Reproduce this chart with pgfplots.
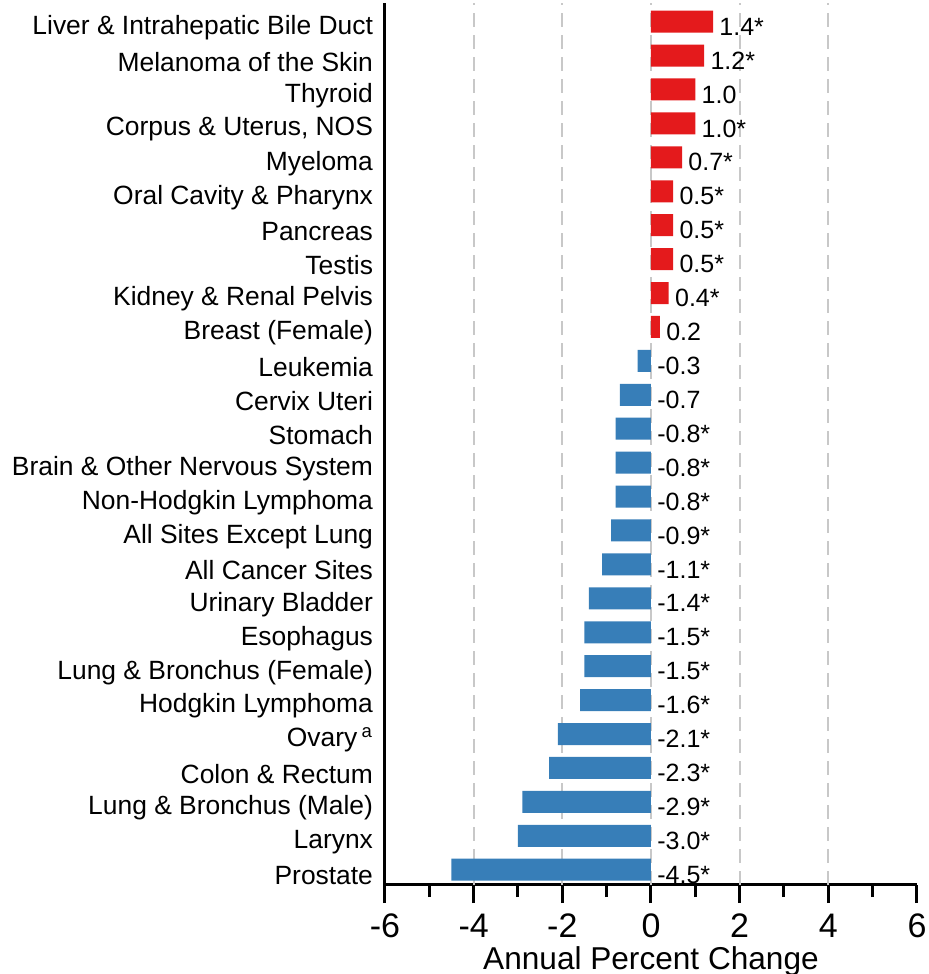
\documentclass[border=0pt]{standalone}
\usepackage{pgfplots}
\pgfplotsset{compat=1.18}
\usepackage{pgfplotstable}
\usepackage{fontspec}
\setmainfont{Liberation Sans}
\definecolor{barred}{HTML}{E41A1C}
\definecolor{barblue}{HTML}{377EB8}
\definecolor{gridgray}{HTML}{C8C8C8}

\pgfplotstableread[col sep=comma]{
pos,val,lab
25,1.4,1.4*
24,1.2,1.2*
23,1.0,1.0
22,1.0,1.0*
21,0.7,0.7*
20,0.5,0.5*
19,0.5,0.5*
18,0.5,0.5*
17,0.4,0.4*
16,0.2,0.2
}\postable

\pgfplotstableread[col sep=comma]{
pos,val,lab
15,-0.3,-0.3
14,-0.7,-0.7
13,-0.8,-0.8*
12,-0.8,-0.8*
11,-0.8,-0.8*
10,-0.9,-0.9*
9,-1.1,-1.1*
8,-1.4,-1.4*
7,-1.5,-1.5*
6,-1.5,-1.5*
5,-1.6,-1.6*
4,-2.1,-2.1*
3,-2.3,-2.3*
2,-2.9,-2.9*
1,-3.0,-3.0*
0,-4.5,-4.5*
}\negtable

\begin{document}
\begin{tikzpicture}
\begin{axis}[
  scale only axis,
  width=266pt, height=441pt,
  xmin=-6, xmax=6, ymin=-0.45, ymax=25.55,
  axis x line*=bottom, axis y line*=left,
  axis line style={line width=1.5pt, black},
  xtick={-6,-4,...,6},
  minor xtick={-5,-3,...,5},
  tick align=outside,
  major tick length=9pt, minor tick length=6pt,
  every tick/.style={black, line width=1.5pt},
  extra x ticks={-4,-2,0,2,4},
  extra x tick labels={},
  extra x tick style={grid=major, major tick length=0pt, every tick/.style={draw=none}},
  grid style={gridgray, line width=1pt, dash pattern=on 7pt off 4pt},
  ytick={0,...,25},
  yticklabels={Prostate, Larynx, Lung \& Bronchus (Male), Colon \& Rectum, Ovary\,\textsuperscript{a}, Hodgkin Lymphoma, Lung \& Bronchus (Female), Esophagus, Urinary Bladder, All Cancer Sites, All Sites Except Lung, Non-Hodgkin Lymphoma, Brain \& Other Nervous System, Stomach, Cervix Uteri, Leukemia, Breast (Female), Kidney \& Renal Pelvis, Testis, Pancreas, Oral Cavity \& Pharynx, Myeloma, {Corpus \& Uterus, NOS}, Thyroid, Melanoma of the Skin, Liver \& Intrahepatic Bile Duct},
  ytick style={draw=none},
  yticklabel style={font=\fontsize{13.2}{15}\selectfont, anchor=east, xshift=6.5pt, yshift=-3pt},
  xticklabel style={font=\fontsize{17}{20}\selectfont, yshift=-2pt},
  /pgf/number format/assume math mode=true,
  xlabel={Annual Percent Change},
  xlabel style={font=\fontsize{15.8}{18}\selectfont, at={(axis description cs:0.5,0)}, anchor=center, yshift=-38pt},
  clip=false,
]
\addplot[xbar, bar shift=0pt, bar width=11pt, fill=barred, draw=none] table[x=val, y=pos] {\postable};
\addplot[xbar, bar shift=0pt, bar width=11pt, fill=barblue, draw=none] table[x=val, y=pos] {\negtable};
\addplot[only marks, mark=none, nodes near coords, point meta=explicit symbolic,
  nodes near coords style={anchor=west, font=\fontsize{12.5}{15}\selectfont, inner sep=1pt, xshift=2pt, yshift=-2.5pt, black}]
  table[x expr={max(\thisrow{val},0)}, y=pos, meta=lab] {\postable};
\addplot[only marks, mark=none, nodes near coords, point meta=explicit symbolic,
  nodes near coords style={anchor=west, font=\fontsize{12.5}{15}\selectfont, inner sep=1pt, xshift=2pt, yshift=-2.5pt, black}]
  table[x expr={max(\thisrow{val},0)}, y=pos, meta=lab] {\negtable};
\coordinate (SW) at (rel axis cs:0,0);
\end{axis}
\pgfresetboundingbox
\path ([shift={(-192.5pt,-44.5pt)}]SW) rectangle ([shift={(271.5pt,442.5pt)}]SW);
\end{tikzpicture}
\end{document}
